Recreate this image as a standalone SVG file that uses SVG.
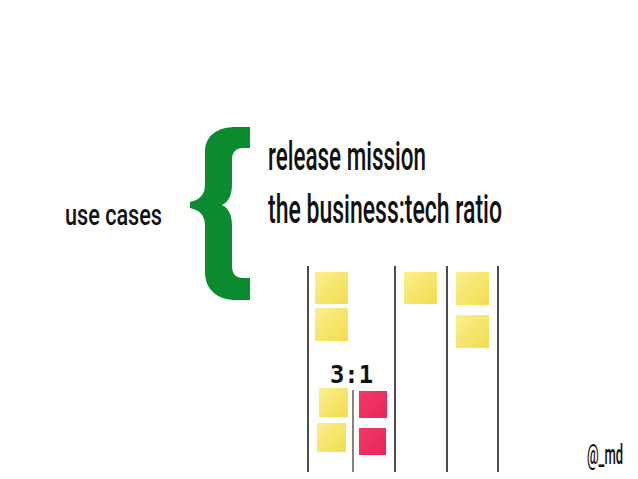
<svg xmlns="http://www.w3.org/2000/svg" width="638" height="479" viewBox="0 0 638 479">
<defs>
<linearGradient id="yel" x1="0" y1="0" x2="1" y2="1">
<stop offset="0" stop-color="#faf08e"/>
<stop offset="1" stop-color="#f2dc4e"/>
</linearGradient>
<linearGradient id="pnk" x1="0" y1="0" x2="1" y2="1">
<stop offset="0" stop-color="#f23a68"/>
<stop offset="1" stop-color="#e8245a"/>
</linearGradient>
</defs>
<style>
.t{font-family:Roboto,"Liberation Sans",Arial,sans-serif;font-weight:500;fill:#111;}
.y{fill:url(#yel);}
.p{fill:url(#pnk);}
.ln{stroke:#111;stroke-width:1.5;fill:none;}
.ln2{stroke:#333;stroke-width:1.2;fill:none;}
</style>
<rect width="638" height="479" fill="#fff"/>
<g id="use-cases"><text class="t" x="65" y="225" font-size="30" textLength="97" lengthAdjust="spacingAndGlyphs">use cases</text></g>
<g id="brace"><path fill="#0c8a30" d="M250 127 L236 127 C218 127 205 135 205 152 L205 185 C205 195 199 200 190 202 L190 208 C199 210 205 215 205 225 L205 272 C205 290 218 300 236 300 L250 300 L250 278 L243 278 C236 278 232 274 232 266 L232 226 C232 214 228 208 222 205 C228 202 232 196 232 184 L232 160 C232 152 236 148 243 148 L250 148 Z"/></g>
<g id="release-mission"><text class="t" x="268" y="170" font-size="41" textLength="158" lengthAdjust="spacingAndGlyphs">release mission</text></g>
<g id="ratio"><text class="t" x="268" y="223" font-size="41" textLength="234" lengthAdjust="spacingAndGlyphs">the business:tech ratio</text></g>
<g id="board">
<line class="ln" x1="308" y1="266" x2="308" y2="472"/>
<line class="ln" x1="395" y1="266" x2="395" y2="472"/>
<line class="ln" x1="447" y1="266" x2="447" y2="472"/>
<line class="ln" x1="498" y1="266" x2="498" y2="472"/>
<line class="ln2" x1="353" y1="390" x2="353" y2="472"/>
<rect class="y" x="315" y="272" width="33" height="32"/>
<rect class="y" x="315" y="308" width="33" height="33"/>
<rect class="y" x="404" y="272" width="33" height="32"/>
<rect class="y" x="456" y="272" width="33" height="33"/>
<rect class="y" x="456" y="315" width="33" height="33"/>
<rect class="y" x="319" y="388" width="29" height="29"/>
<rect class="y" x="317" y="423" width="29" height="29"/>
<rect class="p" x="359" y="391" width="28" height="27"/>
<rect class="p" x="359" y="428" width="27" height="27"/>
<text x="330" y="383" font-family="DejaVu Sans Mono,monospace" font-weight="bold" font-size="24" fill="#111" textLength="43" lengthAdjust="spacingAndGlyphs">3:1</text>
</g>
<g id="credit"><text class="t" x="587" y="464" font-size="28" textLength="36" lengthAdjust="spacingAndGlyphs">@_md</text></g>
</svg>
